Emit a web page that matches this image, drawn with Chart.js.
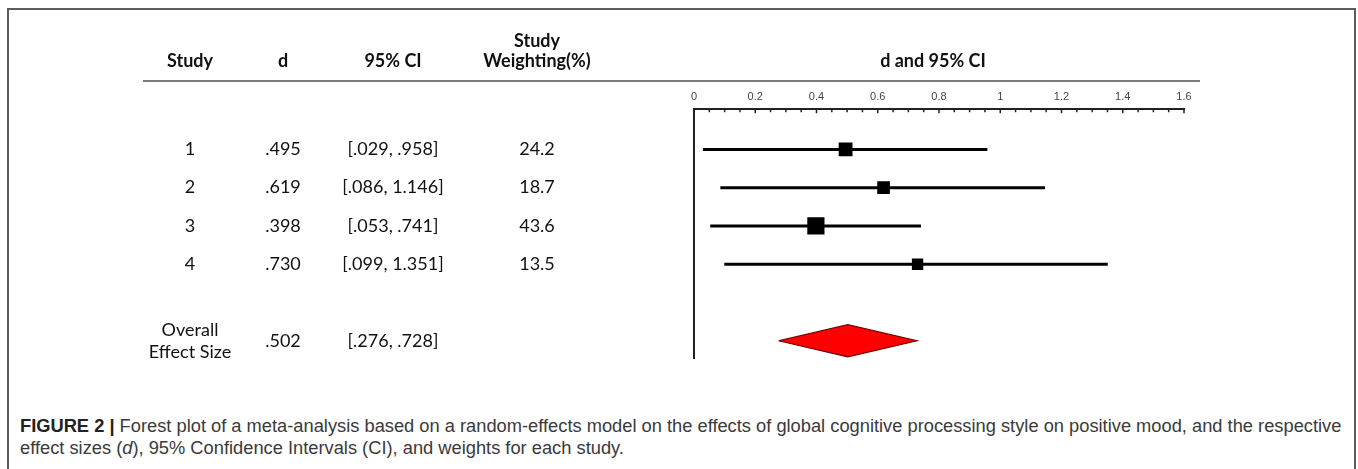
<!DOCTYPE html>
<html><head><meta charset="utf-8">
<script src="https://cdn.jsdelivr.net/npm/chart.js@4.4.1/dist/chart.umd.min.js"></script>
<style>
html,body{margin:0;padding:0;background:#fff;width:1358px;height:469px;overflow:hidden}
#frame{position:absolute;left:7px;top:8px;width:1345px;height:480px;border:2px solid #5c5c5c;border-bottom:none}
#plot{position:absolute;left:0;top:0}
#caption{position:absolute;left:20px;top:415px;font:18.3px "Liberation Sans",Arial,sans-serif;color:#3a3a3a;line-height:22px;white-space:nowrap}
#caption b{color:#222}
</style></head><body>
<div id="frame"></div>
<canvas id="plot" width="1358" height="380"></canvas>
<div id="caption"><b>FIGURE 2 |</b> Forest plot of a meta-analysis based on a random-effects model on the effects of global cognitive processing style on positive mood, and the respective<br>effect sizes (<i>d</i>), 95% Confidence Intervals (CI), and weights for each study.</div>
<script>
// table + forest data
const studies=["1","2","3","4"];
const dVals=[0.495,0.619,0.398,0.730];
const ciLow=[0.029,0.086,0.053,0.099];
const ciHigh=[0.958,1.146,0.741,1.351];
const weights=[24.2,18.7,43.6,13.5];
const overallLabel=["Overall","Effect Size"];
const overallD=0.502, overallLow=0.276, overallHigh=0.728;
const xTickLabels=["0","0.2","0.4","0.6","0.8","1","1.2","1.4","1.6"];
const headers=[["Study"],["d"],["95% CI"],["Study","Weighting(%)"]];
const plotTitle="d and 95% CI";

const colX=[190,283,393,537];
const overallRow=studies.length+2;
const diamondHalf=0.42;
const fmt=v=>v.toFixed(3).replace(/^0\./,".");
const side=w=>4+2*Math.sqrt(w);

const ciSets=studies.map((s,i)=>({
  showLine:true,data:[{x:ciLow[i],y:i+1},{x:ciHigh[i],y:i+1}],
  borderColor:"#000",borderWidth:3,pointRadius:0,order:2
}));
const squares={
  data:dVals.map((d,i)=>({x:d,y:i+1})),pointStyle:"rect",
  pointRadius:weights.map(w=>side(w)/Math.SQRT2),backgroundColor:"#000",borderWidth:0,order:1
};
const diamond={
  showLine:true,fill:"shape",tension:0,pointRadius:0,order:1,
  data:[{x:overallLow,y:overallRow},{x:overallD,y:overallRow-diamondHalf},{x:overallHigh,y:overallRow},{x:overallD,y:overallRow+diamondHalf},{x:overallLow,y:overallRow}],
  backgroundColor:"#ff0000",borderColor:"#6e0000",borderWidth:1.2
};

const minorTicks={id:"minorTicks",afterDraw(chart){
  const {ctx,chartArea}=chart, x=chart.scales.x;
  ctx.save();ctx.strokeStyle="#222";ctx.lineWidth=1.5;ctx.beginPath();
  x.ticks.forEach(t=>{const px=x.getPixelForValue(t.value);const major=Math.round(t.value*20)%4===0;
    ctx.moveTo(px,chartArea.top);ctx.lineTo(px,chartArea.top+(major?4:3));});
  ctx.stroke();ctx.restore();
}};

const table={id:"table",afterDraw(chart){
  const {ctx}=chart, y=chart.scales.y;
  ctx.save();
  ctx.fillStyle="#111";ctx.textAlign="center";ctx.textBaseline="alphabetic";
  ctx.font="bold 18px Lato";
  headers.forEach((h,c)=>{h.forEach((line,k)=>ctx.fillText(line,colX[c],67-(h.length-1-k)*20));});
  ctx.fillText(plotTitle,933,67);
  ctx.strokeStyle="#7a7a7a";ctx.lineWidth=2;ctx.beginPath();ctx.moveTo(143,81);ctx.lineTo(1200,81);ctx.stroke();
  ctx.font="18px Lato";ctx.textBaseline="middle";
  studies.forEach((s,i)=>{
    const py=y.getPixelForValue(i+1);
    ctx.fillText(s,colX[0],py);
    ctx.fillText(fmt(dVals[i]),colX[1],py);
    ctx.fillText(`[${fmt(ciLow[i])}, ${fmt(ciHigh[i])}]`,colX[2],py);
    ctx.fillText(weights[i].toFixed(1),colX[3],py);
  });
  const oy=y.getPixelForValue(overallRow);
  ctx.fillText(overallLabel[0],colX[0],oy-11);
  ctx.fillText(overallLabel[1],colX[0],oy+11);
  ctx.fillText(fmt(overallD),colX[1],oy);
  ctx.fillText(`[${fmt(overallLow)}, ${fmt(overallHigh)}]`,colX[2],oy);
  ctx.restore();
}};

new Chart(document.getElementById("plot"),{
  type:"scatter",
  data:{datasets:[...ciSets,squares,diamond]},
  options:{
    responsive:false,animation:false,events:[],devicePixelRatio:1,
    layout:{padding:{left:694,right:174,top:84,bottom:22}},
    plugins:{legend:{display:false},tooltip:{enabled:false}},
    scales:{
      x:{type:"linear",position:"top",min:0,max:1.6,
        ticks:{stepSize:0.05,autoSkip:false,maxRotation:0,padding:6,color:"#444",font:{size:11,family:"Liberation Sans"},
          callback:v=>{const k=Math.round(v*20);return k%4===0?xTickLabels[k/4]:"";}},
        grid:{display:false,drawTicks:false,tickLength:0},border:{display:true,color:"#222",width:2}},
      y:{type:"linear",reverse:true,min:-0.05,max:6.45,
        ticks:{display:false},grid:{display:false,drawTicks:false,tickLength:0},border:{display:true,color:"#222",width:2}}
    }
  },
  plugins:[minorTicks,table]
});
</script>
</body></html>
